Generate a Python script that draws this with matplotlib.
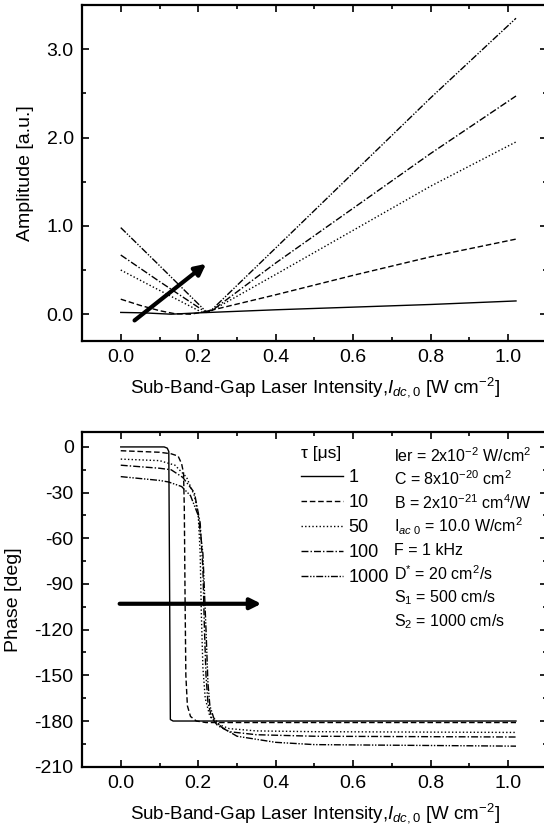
import numpy as np
import matplotlib
matplotlib.use("Agg")
import matplotlib.pyplot as plt
from matplotlib.ticker import MultipleLocator

plt.rcParams['font.family'] = ['Liberation Sans', 'DejaVu Sans']
plt.rcParams['mathtext.fontset'] = 'custom'
plt.rcParams['mathtext.rm'] = 'Liberation Sans'
plt.rcParams['mathtext.it'] = 'Liberation Sans:italic'
plt.rcParams['mathtext.bf'] = 'Liberation Sans:bold'
plt.rcParams['axes.unicode_minus'] = False

# tau values [us] and line styles
taus = ['1', '10', '50', '100', '1000']
styles = ['-', (0, (4, 2)), (0, (1, 1.6)), (0, (5, 1.5, 1, 1.5)), (0, (5, 1.2, 1, 1.2, 1, 1.2))]

# ---- amplitude (top panel)
amp_x = [
    [0.0, 0.06, 0.13, 0.2, 0.4, 0.6, 0.8, 1.02],
    [0.0, 0.05, 0.1, 0.14, 0.18, 0.22, 0.4, 0.6, 0.8, 1.02],
    [0.0, 0.1, 0.21, 0.23, 0.4, 0.6, 0.8, 1.02],
    [0.0, 0.1, 0.22, 0.235, 0.4, 0.6, 0.8, 1.02],
    [0.0, 0.1, 0.22, 0.235, 0.4, 0.6, 0.8, 1.02],
]
amp_y = [
    [0.02, 0.015, 0.0, 0.015, 0.05, 0.08, 0.11, 0.15],
    [0.17, 0.1, 0.04, 0.005, 0.0, 0.03, 0.22, 0.44, 0.65, 0.85],
    [0.5, 0.27, 0.02, 0.03, 0.45, 0.95, 1.45, 1.95],
    [0.67, 0.37, 0.02, 0.04, 0.58, 1.2, 1.82, 2.47],
    [0.98, 0.55, 0.03, 0.05, 0.75, 1.6, 2.45, 3.35],
]

# ---- phase (bottom panel)
ph_x = [
    [0.0, 0.112, 0.12, 0.124, 0.126, 0.128, 0.135, 1.02],
    [0.0, 0.1, 0.13, 0.148, 0.157, 0.162, 0.164, 0.166, 0.168, 0.172, 0.18, 0.195, 0.22, 0.3, 1.02],
    [0.0, 0.1, 0.14, 0.17, 0.19, 0.2, 0.205, 0.208, 0.212, 0.218, 0.23, 0.25, 0.28, 0.35, 0.5, 1.02],
    [0.0, 0.1, 0.13, 0.16, 0.19, 0.205, 0.212, 0.216, 0.22, 0.225, 0.235, 0.25, 0.28, 0.35, 0.5, 1.02],
    [0.0, 0.1, 0.123, 0.157, 0.18, 0.2, 0.212, 0.22, 0.225, 0.23, 0.24, 0.26, 0.3, 0.4, 0.5, 1.02],
]
ph_y = [
    [0.0, 0.0, -0.8, -3, -90, -179, -180, -180],
    [-2.5, -3.5, -4.5, -6, -11, -17, -40, -100, -150, -170, -177, -180, -181, -181, -181],
    [-8, -9, -12, -20, -32, -45, -70, -110, -145, -165, -177, -182, -185, -186.5, -187, -187.5],
    [-12, -14, -15, -20, -30, -50, -80, -120, -150, -168, -178, -183, -187, -189, -190, -190.5],
    [-19.5, -22, -23, -26, -32, -45, -70, -120, -155, -170, -178, -184, -190, -194, -195.5, -196.5],
]

# arrows (start, end)
amp_arrow = [(0.03, -0.09), (0.226, 0.59)]
ph_arrow = [(-0.01, -103), (0.37, -103)]

params = [
    'ler = 2x10$^{-2}$ W/cm$^2$',
    'C = 8x10$^{-20}$ cm$^2$',
    'B = 2x10$^{-21}$ cm$^4$/W',
    'I$_{ac\\ 0}$ = 10.0 W/cm$^2$',
    'F = 1 kHz',
    'D$^{*}$ = 20 cm$^2$/s',
    'S$_1$ = 500 cm/s',
    'S$_2$ = 1000 cm/s',
]

xlab = 'Sub-Band-Gap Laser Intensity,$I_{dc,0}$ [W cm$^{-2}$]'

fig = plt.figure(figsize=(5.44, 8.38), dpi=100)
ax1 = fig.add_axes([82/544, 1-340.7/838, 465/544, 335.7/838])
ax2 = fig.add_axes([82/544, 1-766.7/838, 465/544, 335/838])

for ax in (ax1, ax2):
    for s in ax.spines.values():
        s.set_linewidth(1.6)
    ax.tick_params(which='both', direction='in', top=True, right=True, labelsize=14, width=1.2)
    ax.tick_params(which='major', length=5, pad=6)
    ax.tick_params(which='minor', length=3)
    ax.set_xlim(-0.1, 1.1)
    ax.xaxis.set_major_locator(MultipleLocator(0.2))
    ax.xaxis.set_minor_locator(MultipleLocator(0.1))
    ax.xaxis.set_major_formatter(plt.FormatStrFormatter('%.1f'))
    ax.set_xlabel(xlab, fontsize=13.5)
    ax.xaxis.set_label_coords(0.5, -0.103)

for i in range(5):
    ax1.plot(amp_x[i], amp_y[i], color='black', lw=1.0, linestyle=styles[i])
ax1.set_ylim(-0.3, 3.5)
ax1.yaxis.set_major_locator(MultipleLocator(1.0))
ax1.yaxis.set_minor_locator(MultipleLocator(0.5))
ax1.yaxis.set_major_formatter(plt.FormatStrFormatter('%.1f'))
ax1.set_ylabel('Amplitude [a.u.]', fontsize=14)
ax1.yaxis.set_label_coords(-0.103, 0.5)
ax1.annotate('', xy=amp_arrow[1], xytext=amp_arrow[0],
             arrowprops=dict(arrowstyle='-|>', lw=3, color='black', mutation_scale=16))

lines = []
for i in range(5):
    l, = ax2.plot(ph_x[i], ph_y[i], color='black', lw=1.0, linestyle=styles[i], label=taus[i])
    lines.append(l)
ax2.set_ylim(-210, 10)
ax2.yaxis.set_major_locator(MultipleLocator(30))
ax2.yaxis.set_minor_locator(MultipleLocator(15))
ax2.set_ylabel('Phase [deg]', fontsize=14)
ax2.yaxis.set_label_coords(-0.129, 0.5)
ax2.annotate('', xy=ph_arrow[1], xytext=ph_arrow[0],
             arrowprops=dict(arrowstyle='-|>', lw=3, color='black', mutation_scale=16))

leg = ax2.legend(handles=lines, title='τ [μs]', loc='upper left', bbox_to_anchor=(0.472, 0.958),
                 frameon=False, fontsize=13, title_fontsize=12.5, handlelength=2.3,
                 handletextpad=0.3, labelspacing=0.45, borderpad=0, borderaxespad=0,
                 alignment='left')

for k, p in enumerate(params):
    ax2.text(0.672, 0.93 - k*0.071, p, transform=ax2.transAxes, fontsize=11.5,
             va='center', ha='left')

fig.savefig('out.png', dpi=100)
